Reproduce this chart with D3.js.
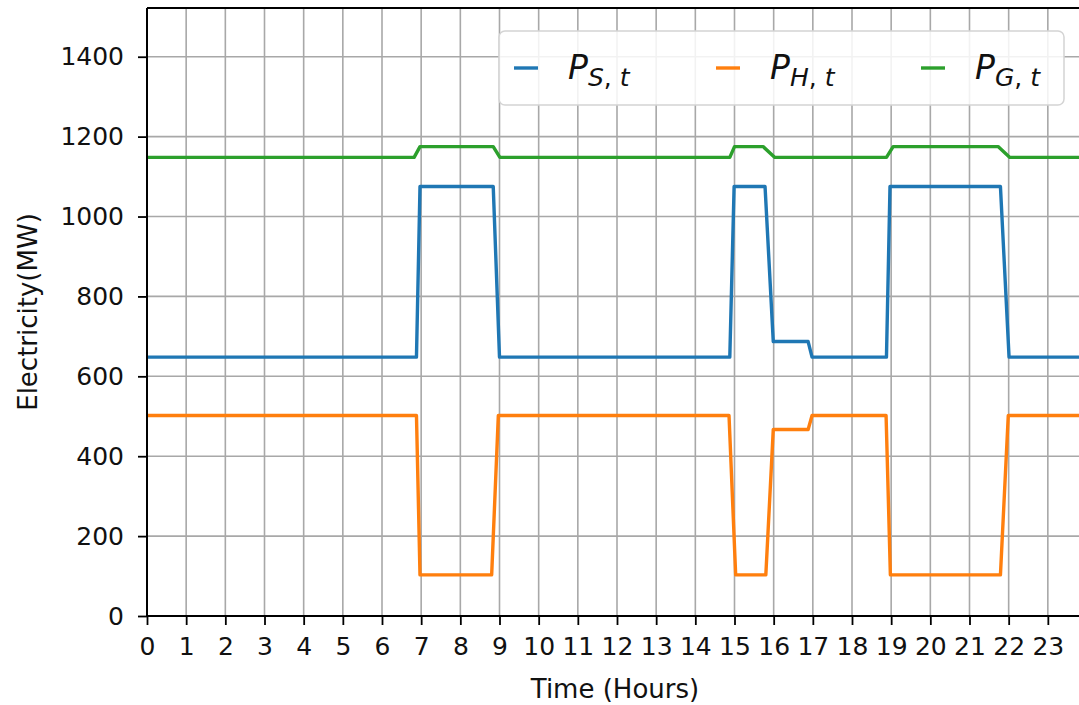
<!DOCTYPE html>
<html>
<head>
<meta charset="utf-8">
<script src="https://cdn.jsdelivr.net/npm/d3@7"></script>
<style>
  html, body { margin: 0; padding: 0; background: #fff; overflow: hidden; }
  svg { display: block; font-family: "DejaVu Sans", sans-serif; }
</style>
</head>
<body>
<svg id="chart" width="1079" height="705"></svg>
<script>
// Hourly dispatch profile: vertices (hour, MW) of each series
const hoursS = [0, 6.88, 6.97, 8.84, 9.0, 14.88, 14.99, 15.78, 15.99, 16.88, 16.98, 18.88, 18.97, 21.79, 22.01, 24];
const valuesS = [648, 648, 1075, 1075, 648, 648, 1075, 1075, 687, 687, 648, 648, 1075, 1075, 648, 648];

const hoursH = [0, 6.88, 6.97, 8.80, 8.97, 14.86, 15.03, 15.8, 15.99, 16.88, 16.98, 18.87, 18.98, 21.79, 21.99, 24];
const valuesH = [502, 502, 103, 103, 502, 502, 103, 103, 467, 467, 502, 502, 103, 103, 502, 502];

const hoursG = [0, 6.82, 6.97, 8.84, 9.01, 14.88, 15.0, 15.73, 16.03, 18.88, 19.05, 21.73, 22.03, 24];
const valuesG = [1148, 1148, 1175, 1175, 1148, 1148, 1175, 1175, 1148, 1148, 1175, 1175, 1148, 1148];

const xTicks = d3.range(0, 24);
const yTicks = [0, 200, 400, 600, 800, 1000, 1200, 1400];

const seriesNames = ["S", "H", "G"];
const seriesColors = ["#1f77b4", "#ff7f0e", "#2ca02c"];

const series = [
  { key: seriesNames[0], color: seriesColors[0], pts: hoursS.map((h, i) => [h, valuesS[i]]) },
  { key: seriesNames[1], color: seriesColors[1], pts: hoursH.map((h, i) => [h, valuesH[i]]) },
  { key: seriesNames[2], color: seriesColors[2], pts: hoursG.map((h, i) => [h, valuesG[i]]) }
];

const svg = d3.select("#chart");
const W = 1079, H = 705;
const plot = { left: 147, top: 8, bottom: 616, right: 1087 };

const x = d3.scaleLinear().domain([0, 24]).range([plot.left, plot.right]);
const y = d3.scaleLinear().domain([0, 1522]).range([plot.bottom, plot.top]);

svg.append("rect").attr("width", W).attr("height", H).attr("fill", "#fff");

svg.append("defs").append("clipPath").attr("id", "plotClip")
  .append("rect")
  .attr("x", plot.left).attr("y", plot.top)
  .attr("width", plot.right - plot.left).attr("height", plot.bottom - plot.top);

// grid
const grid = svg.append("g").attr("clip-path", "url(#plotClip)");
grid.selectAll("line.vx").data(xTicks.concat([24])).join("line")
  .attr("x1", d => x(d)).attr("x2", d => x(d))
  .attr("y1", plot.top).attr("y2", plot.bottom)
  .attr("stroke", "#a8a8a8").attr("stroke-width", 1.6);
grid.selectAll("line.hy").data(yTicks).join("line")
  .attr("x1", plot.left).attr("x2", plot.right)
  .attr("y1", d => y(d)).attr("y2", d => y(d))
  .attr("stroke", "#a8a8a8").attr("stroke-width", 1.6);

// lines
const line = d3.line().x(d => x(d[0])).y(d => y(d[1]));
const lines = svg.append("g").attr("clip-path", "url(#plotClip)");
lines.selectAll("path").data(series).join("path")
  .attr("d", d => line(d.pts))
  .attr("fill", "none")
  .attr("stroke", d => d.color)
  .attr("stroke-width", 3.4)
  .attr("stroke-linejoin", "round");

// axes
const fontSize = 25;
const xAxis = svg.append("g").attr("transform", `translate(0,${plot.bottom})`)
  .call(d3.axisBottom(x).tickValues(xTicks).tickFormat(d3.format("d")).tickSize(9).tickPadding(12));
const yAxis = svg.append("g").attr("transform", `translate(${plot.left},0)`)
  .call(d3.axisLeft(y).tickValues(yTicks).tickFormat(d3.format("d")).tickSize(9).tickPadding(14));

[xAxis, yAxis].forEach(a => {
  a.select(".domain").remove();
  a.selectAll(".tick line").attr("stroke", "#000").attr("stroke-width", 1.8);
  a.selectAll(".tick text").attr("fill", "#111").style("font-size", fontSize + "px")
    .style("font-family", "DejaVu Sans");
});

// spines
svg.append("line").attr("x1", plot.left).attr("x2", plot.left)
  .attr("y1", plot.top).attr("y2", plot.bottom).attr("stroke", "#000").attr("stroke-width", 2);
svg.append("line").attr("x1", plot.left).attr("x2", plot.right)
  .attr("y1", plot.bottom).attr("y2", plot.bottom).attr("stroke", "#000").attr("stroke-width", 2);
svg.append("line").attr("x1", plot.left).attr("x2", plot.right)
  .attr("y1", plot.top).attr("y2", plot.top).attr("stroke", "#000").attr("stroke-width", 2);

// axis titles
svg.append("text").attr("x", 615).attr("y", 698)
  .attr("text-anchor", "middle").attr("fill", "#111")
  .style("font-size", "26px").text("Time (Hours)");
svg.append("text").attr("transform", `translate(37,${(plot.top + plot.bottom) / 2}) rotate(-90)`)
  .attr("text-anchor", "middle").attr("fill", "#111")
  .style("font-size", "26px").text("Electricity(MW)");

// legend
const legend = svg.append("g");
legend.append("rect")
  .attr("x", 499).attr("y", 31).attr("width", 565).attr("height", 74)
  .attr("rx", 6).attr("ry", 6)
  .attr("fill", "#fff").attr("fill-opacity", 0.85)
  .attr("stroke", "#d4d4d4").attr("stroke-width", 1.5);

const legendX = [514, 716, 921];
series.forEach((s, i) => {
  const g = legend.append("g").attr("transform", `translate(${legendX[i]},68)`);
  g.append("line").attr("x1", 0).attr("x2", 24).attr("y1", 0).attr("y2", 0)
    .attr("stroke", s.color).attr("stroke-width", 3.4);
  const t = g.append("text").attr("x", 54).attr("y", 11).attr("fill", "#111")
    .style("font-family", "DejaVu Sans");
  t.append("tspan").style("font-style", "italic").style("font-size", "33px").text("P");
  t.append("tspan").attr("dy", 7).style("font-size", "25px")
    .style("font-style", "italic").text(s.key);
  t.append("tspan").style("font-size", "25px").text(", ");
  t.append("tspan").style("font-size", "25px").style("font-style", "italic").text("t");
});
</script>
</body>
</html>
